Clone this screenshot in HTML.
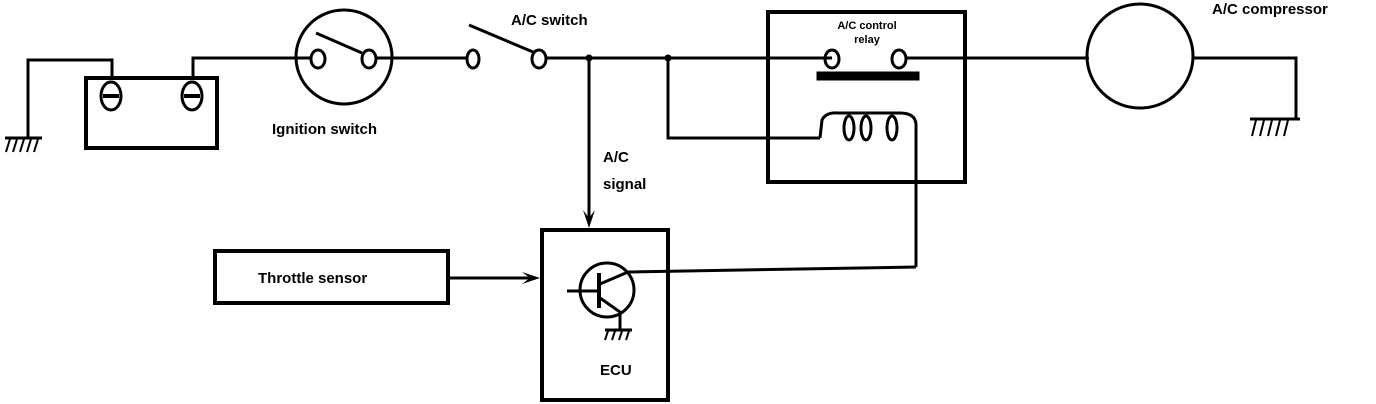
<!DOCTYPE html>
<html><head><meta charset="utf-8"><style>
html,body{margin:0;padding:0;background:#fff;}
svg{display:block;}
text{font-family:"Liberation Sans",sans-serif;font-weight:bold;fill:#000;}
</style></head><body>
<svg width="1376" height="404" viewBox="0 0 1376 404" xmlns="http://www.w3.org/2000/svg">
<g stroke="#000" fill="none" stroke-width="3" stroke-linejoin="miter">
<polyline points="28,138 28,60 112,60 112,78"/>
<line x1="5" y1="138" x2="42" y2="138"/>
<g stroke-width="2"><line x1="10" y1="139" x2="6" y2="152"/><line x1="17" y1="139" x2="13" y2="152"/><line x1="24" y1="139" x2="20" y2="152"/><line x1="31" y1="139" x2="27" y2="152"/><line x1="38" y1="139" x2="34" y2="152"/></g>
<rect x="86" y="78" width="131" height="70" stroke-width="4"/>
<ellipse cx="111" cy="96" rx="10" ry="14"/>
<ellipse cx="192" cy="96" rx="10" ry="14"/>
<line x1="103" y1="96" x2="119" y2="96" stroke-width="4"/>
<line x1="184" y1="96" x2="200" y2="96" stroke-width="4"/>
<polyline points="193,78 193,58 310,58"/>
<ellipse cx="344" cy="57" rx="48" ry="47"/>
<ellipse cx="318" cy="59" rx="7" ry="9"/>
<ellipse cx="369" cy="59" rx="7" ry="9"/>
<line x1="316" y1="33" x2="362" y2="53"/>
<line x1="376" y1="58" x2="466" y2="58"/>
<ellipse cx="473" cy="59" rx="6" ry="9"/>
<line x1="469" y1="25" x2="533" y2="52"/>
<ellipse cx="539" cy="59" rx="7" ry="9"/>
<line x1="546" y1="58" x2="832" y2="58"/>
<line x1="589" y1="58" x2="589" y2="222"/>
<polyline points="668,58 668,138 820,138"/>
<rect x="768" y="12" width="197" height="170" stroke-width="4"/>
<ellipse cx="832" cy="59" rx="7" ry="9"/>
<ellipse cx="899" cy="59" rx="7" ry="9"/>
<line x1="906" y1="58" x2="1088" y2="58"/>
<rect x="818" y="73" width="100" height="6" fill="#000"/>
<path d="M820,138 L822,120 Q826,112 838,113 L900,113 Q915,113 916,124 L916,267"/>
<ellipse cx="849" cy="128" rx="5" ry="12"/>
<ellipse cx="866" cy="128" rx="5" ry="12"/>
<ellipse cx="892" cy="128" rx="5" ry="12"/>
<ellipse cx="1140" cy="56" rx="53" ry="52"/>
<polyline points="1193,58 1296,58 1296,118"/>
<line x1="1250" y1="119" x2="1300" y2="119"/>
<g stroke-width="2"><line x1="1256" y1="120" x2="1252" y2="136"/><line x1="1264" y1="120" x2="1260" y2="136"/><line x1="1272" y1="120" x2="1268" y2="136"/><line x1="1280" y1="120" x2="1276" y2="136"/><line x1="1288" y1="120" x2="1284" y2="136"/></g>
<rect x="215" y="251" width="233" height="52" stroke-width="4"/>
<line x1="448" y1="278" x2="533" y2="278"/>
<rect x="542" y="230" width="126" height="170" stroke-width="4"/>
<circle cx="607" cy="290" r="27"/>
<line x1="567" y1="291" x2="599" y2="291"/>
<line x1="599" y1="273" x2="599" y2="308" stroke-width="4"/>
<polyline points="600,284 628,272 916,267"/>
<polyline points="600,298 620,312 620,330"/>
<line x1="605" y1="330" x2="632" y2="330"/>
<g stroke-width="2"><line x1="608" y1="331" x2="605" y2="340"/><line x1="615" y1="331" x2="612" y2="340"/><line x1="622" y1="331" x2="619" y2="340"/><line x1="629" y1="331" x2="626" y2="340"/></g>
</g>
<circle cx="589" cy="58" r="3.5" fill="#000"/>
<circle cx="668" cy="58" r="3.5" fill="#000"/>
<circle cx="1087" cy="58" r="2" fill="#000"/>
<polygon points="583,210 589,228 595,210 589,218" fill="#000"/>
<polygon points="522,272 540,278 522,284 530,278" fill="#000"/>
<text x="272" y="134" font-size="15">Ignition switch</text>
<text x="511" y="25" font-size="15">A/C switch</text>
<text x="603" y="162" font-size="15">A/C</text>
<text x="603" y="189" font-size="15">signal</text>
<text x="867" y="29" font-size="11" text-anchor="middle">A/C control</text>
<text x="867" y="43" font-size="11" text-anchor="middle" font-weight="normal">relay</text>
<text x="1212" y="14" font-size="15">A/C compressor</text>
<text x="258" y="283" font-size="15">Throttle sensor</text>
<text x="600" y="375" font-size="15">ECU</text>
</svg>
</body></html>
